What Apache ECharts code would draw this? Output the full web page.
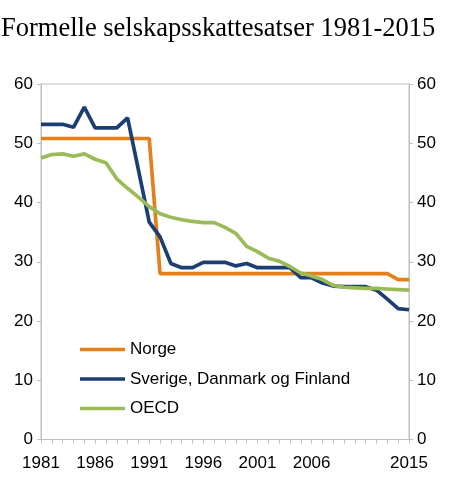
<!DOCTYPE html>
<html>
<head>
<meta charset="utf-8">
<script src="https://cdn.jsdelivr.net/npm/echarts@6/dist/echarts.min.js"></script>
<style>
html,body{margin:0;padding:0;background:#fff;}
#chart{width:450px;height:489px;}
</style>
</head>
<body>
<div id="chart"></div>
<script>
const years = ['1981','1982','1983','1984','1985','1986','1987','1988','1989','1990',
  '1991','1992','1993','1994','1995','1996','1997','1998','1999','2000',
  '2001','2002','2003','2004','2005','2006','2007','2008','2009','2010',
  '2011','2012','2013','2014','2015'];
const shownYears = ['1981','1986','1991','1996','2001','2006','2015'];
const norge = [50.8,50.8,50.8,50.8,50.8,50.8,50.8,50.8,50.8,50.8,
  50.8,28,28,28,28,28,28,28,28,28,
  28,28,28,28,28,28,28,28,28,28,
  28,28,28,27,27];
const nordisk = [53.2,53.2,53.2,52.7,56.1,52.6,52.6,52.6,54.3,45.5,
  36.7,34.2,29.7,29.0,29.0,29.9,29.9,29.9,29.3,29.7,
  29.0,29.0,29.0,29.0,27.3,27.3,26.4,25.9,25.8,25.8,
  25.8,25.2,23.7,22.1,21.9];
const oecd = [47.5,48.1,48.2,47.8,48.2,47.3,46.7,44.0,42.4,40.9,
  39.3,38.1,37.5,37.1,36.8,36.6,36.6,35.8,34.8,32.6,
  31.7,30.6,30.1,29.2,28.1,27.6,27.0,26.0,25.7,25.6,
  25.5,25.5,25.4,25.3,25.2];
const yTicks = {min:0, max:60, interval:10};
const names = ['Norge','Sverige, Danmark og Finland','OECD'];
const colors = ['#E3801C','#1B3F73','#9BBB59'];

const chart = echarts.init(document.getElementById('chart'));
const axisGray = '#BFBFBF';
const font = 'Liberation Sans, Arial, sans-serif';
function yAxisDef(pos){
  return {
    type:'value', position:pos, min:yTicks.min, max:yTicks.max, interval:yTicks.interval,
    axisLine:{show:true, lineStyle:{color:axisGray, width:1}},
    axisTick:{show:true, length:4, lineStyle:{color:axisGray}},
    splitLine:{show:false},
    axisLabel:{color:'#000', fontSize:17, fontFamily:font, margin:8}
  };
}
chart.setOption({
  animation:false,
  backgroundColor:'#fff',
  title:{
    text:'Formelle selskapsskattesatser 1981-2015',
    left:-4, top:11,
    textStyle:{fontFamily:'Liberation Serif, Times New Roman, serif', fontWeight:'normal', fontSize:26.5, color:'#000'}
  },
  grid:{left:41, right:41, top:84, height:355.5, show:true, borderColor:axisGray, borderWidth:1, containLabel:false},
  legend:{
    orient:'vertical', left:80, top:341, padding:0,
    icon:'rect', itemWidth:45, itemHeight:3.5, itemGap:12.5,
    textStyle:{fontFamily:font, fontSize:17, color:'#000'},
    data:names
  },
  xAxis:{
    type:'category', data:years, boundaryGap:false,
    axisLine:{show:true, lineStyle:{color:axisGray}},
    axisTick:{show:true, interval:0, length:4, lineStyle:{color:axisGray}},
    axisLabel:{
      color:'#000', fontSize:17, fontFamily:font, margin:15,
      interval:(i, v) => shownYears.indexOf(v) >= 0
    },
    splitLine:{show:false}
  },
  yAxis:[yAxisDef('left'), yAxisDef('right')],
  series:[
    {name:names[0], type:'line', data:norge, yAxisIndex:0, symbol:'none', color:colors[0], lineStyle:{width:3.7, color:colors[0]}},
    {name:names[1], type:'line', data:nordisk, yAxisIndex:0, symbol:'none', color:colors[1], lineStyle:{width:3.7, color:colors[1]}},
    {name:names[2], type:'line', data:oecd, yAxisIndex:0, symbol:'none', color:colors[2], lineStyle:{width:3.7, color:colors[2]}}
  ]
});
</script>
</body>
</html>
